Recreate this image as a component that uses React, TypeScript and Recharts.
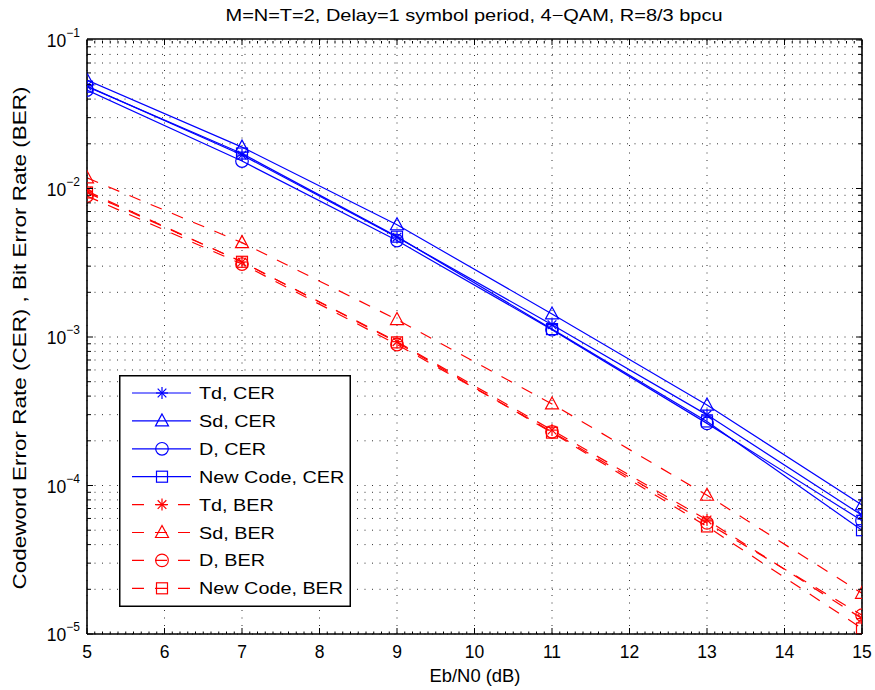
import React from 'react';
import { LineChart, Line, XAxis, YAxis, CartesianGrid, Legend } from 'recharts';

// ---------- data ----------
const snr = [5, 7, 9, 11, 13, 15];
const tdCER = [0.049, 0.0168, 0.0047, 0.00121, 0.000299, 0.000063];
const sdCER = [0.0538, 0.019, 0.0057, 0.00143, 0.000348, 0.000074];
const dCER = [0.046, 0.0153, 0.00446, 0.00112, 0.000262, 0.000058];
const ncCER = [0.0485, 0.0172, 0.00474, 0.00113, 0.00027, 0.00005];
const tdBER = [0.0096, 0.0032, 0.00093, 0.000236, 0.0000586, 0.0000127];
const sdBER = [0.0118, 0.00432, 0.00131, 0.000354, 0.000086, 0.0000188];
const dBER = [0.0089, 0.0031, 0.00089, 0.00023, 0.000056, 0.0000134];
const ncBER = [0.0094, 0.00321, 0.00092, 0.000227, 0.000053, 0.0000109];

const xTicks = [5, 6, 7, 8, 9, 10, 11, 12, 13, 14, 15];
const xMinorTicks: number[] = [];
for (let i = 0; i < xTicks.length - 1; i++) {
  for (let k = 1; k <= 9; k++) xMinorTicks.push(Number((xTicks[i] + k / 10).toFixed(1)));
}
const decades = [-5, -4, -3, -2, -1];
const yTicks: number[] = [];
decades.forEach((e, i) => {
  yTicks.push(Number(Math.pow(10, e).toPrecision(3)));
  if (i < decades.length - 1) {
    for (let k = 2; k <= 9; k++) yTicks.push(Number((k * Math.pow(10, e)).toPrecision(3)));
  }
});

const titleText = 'M=N=T=2, Delay=1 symbol period, 4\u2212QAM, R=8/3 bpcu';
const xLabelText = 'Eb/N0 (dB)';
const yLabelText = 'Codeword Error Rate (CER) , Bit Error Rate (BER)';

const BLUE = '#0000ff';
const RED = '#ff0000';
const FONT = '"Liberation Sans", Arial, Helvetica, sans-serif';
const DASH = '12 11';

type SeriesDef = { key: string; name: string; values: number[]; color: string; marker: string; dashed: boolean };
const series: SeriesDef[] = [
  { key: 'tdCER', name: 'Td, CER', values: tdCER, color: BLUE, marker: 'star', dashed: false },
  { key: 'sdCER', name: 'Sd, CER', values: sdCER, color: BLUE, marker: 'triangle', dashed: false },
  { key: 'dCER', name: 'D, CER', values: dCER, color: BLUE, marker: 'circle', dashed: false },
  { key: 'ncCER', name: 'New Code, CER', values: ncCER, color: BLUE, marker: 'square', dashed: false },
  { key: 'tdBER', name: 'Td, BER', values: tdBER, color: RED, marker: 'star', dashed: true },
  { key: 'sdBER', name: 'Sd, BER', values: sdBER, color: RED, marker: 'triangle', dashed: true },
  { key: 'dBER', name: 'D, BER', values: dBER, color: RED, marker: 'circle', dashed: true },
  { key: 'ncBER', name: 'New Code, BER', values: ncBER, color: RED, marker: 'square', dashed: true },
];

const data = snr.map((x, i) => {
  const row: Record<string, number> = { x };
  series.forEach((s) => {
    row[s.key] = s.values[i];
  });
  return row;
});

// ---------- markers ----------
function Marker({ shape, cx, cy, color }: { shape: string; cx: number; cy: number; color: string }) {
  const common = { fill: 'none', stroke: color, strokeWidth: 1.2 };
  if (shape === 'star') {
    const r = 6;
    const d = r * 0.72;
    return (
      <g {...common}>
        <line x1={cx} y1={cy - r} x2={cx} y2={cy + r} />
        <line x1={cx - r} y1={cy} x2={cx + r} y2={cy} />
        <line x1={cx - d} y1={cy - d} x2={cx + d} y2={cy + d} />
        <line x1={cx - d} y1={cy + d} x2={cx + d} y2={cy - d} />
      </g>
    );
  }
  if (shape === 'triangle') {
    return <polygon points={`${cx},${cy - 7} ${cx - 6.5},${cy + 5} ${cx + 6.5},${cy + 5}`} {...common} />;
  }
  if (shape === 'circle') {
    return <circle cx={cx} cy={cy} r={6.3} {...common} />;
  }
  return <rect x={cx - 5.5} y={cy - 5.5} width={11} height={11} {...common} />;
}

const makeDot = (shape: string, color: string) => (p: any) => {
  if (p.cx == null || p.cy == null) return <g key={`e-${p.index}`} />;
  return <Marker key={`m-${shape}-${color}-${p.index}`} shape={shape} cx={p.cx} cy={p.cy} color={color} />;
};

// ---------- ticks ----------
const isMajor = (v: number) => Math.abs(Math.log10(v) - Math.round(Math.log10(v))) < 1e-6;

const BottomTick = (props: any) => {
  const { x, y, payload } = props;
  return (
    <g>
      <line x1={x} y1={y} x2={x} y2={y - 6} stroke="#000" strokeWidth={1} />
      <text x={x} y={y + 24} textAnchor="middle" fontSize={17.5} fontFamily={FONT} fill="#000">
        {payload.value}
      </text>
    </g>
  );
};
const TopTick = (props: any) => {
  const { x, y } = props;
  return <line x1={x} y1={y} x2={x} y2={y + 6} stroke="#000" strokeWidth={1} />;
};
const BottomMinorTick = (props: any) => {
  const { x, y } = props;
  return <line x1={x} y1={y - 1} x2={x} y2={y - 3.5} stroke="#000" strokeWidth={1} />;
};
const TopMinorTick = (props: any) => {
  const { x, y } = props;
  return <line x1={x} y1={y + 1} x2={x} y2={y + 3.5} stroke="#000" strokeWidth={1} />;
};
const LeftTick = (props: any) => {
  const { x, y, payload } = props;
  const v = payload.value as number;
  if (!isMajor(v)) return <line x1={x} y1={y} x2={x + 4} y2={y} stroke="#000" strokeWidth={1} />;
  const e = Math.round(Math.log10(v));
  return (
    <g>
      <line x1={x} y1={y} x2={x + 6} y2={y} stroke="#000" strokeWidth={1} />
      <text x={x - 7} y={y + 7} textAnchor="end" fontSize={17.5} fontFamily={FONT} fill="#000">
        <tspan>10</tspan>
        <tspan dy={-10} fontSize={12}>{'\u2212' + Math.abs(e)}</tspan>
      </text>
    </g>
  );
};
const RightTick = (props: any) => {
  const { x, y, payload } = props;
  const len = isMajor(payload.value) ? 6 : 4;
  return <line x1={x} y1={y} x2={x - len} y2={y} stroke="#000" strokeWidth={1} />;
};

// ---------- legend ----------
const renderLegend = () => (
  <svg width={233} height={233} style={{ display: 'block' }}>
    <rect x={0.75} y={0.75} width={230.5} height={230.5} fill="#fff" stroke="#000" strokeWidth={1.5} />
    {series.map((s, i) => {
      const cy = 18 + i * 27.9;
      return (
        <g key={s.key}>
          <line x1={13} y1={cy} x2={72} y2={cy} stroke={s.color} strokeWidth={1.2} strokeDasharray={s.dashed ? DASH : undefined} />
          <Marker shape={s.marker} cx={43} cy={cy} color={s.color} />
          <text transform={`translate(80, ${cy + 6}) scale(1.2, 1)`} fontSize={16.5} fontFamily={FONT} fill="#000">
            {s.name}
          </text>
        </g>
      );
    })}
  </svg>
);

const axisCommon = {
  type: 'number' as const,
  allowDataOverflow: true,
  interval: 0 as const,
  tickSize: 0,
  tickMargin: 0,
  tickLine: false,
};

export default function App() {
  return (
    <div style={{ position: 'absolute', left: 0, top: 0, width: 875, height: 690, background: '#fff' }}>
      <LineChart width={875} height={690} data={data} margin={{ top: 38, right: 12, bottom: 54, left: 86 }}>
        <CartesianGrid stroke="#333" strokeDasharray="1 6.5" strokeWidth={1} />
        <XAxis
          {...axisCommon}
          dataKey="x"
          domain={[5, 15]}
          ticks={xTicks}
          height={1}
          axisLine={{ stroke: '#000', strokeWidth: 1.6 }}
          tick={BottomTick}
        />
        <XAxis
          {...axisCommon}
          xAxisId="bminor"
          dataKey="x"
          domain={[5, 15]}
          ticks={xMinorTicks}
          height={1}
          axisLine={false}
          tick={BottomMinorTick}
        />
        <XAxis
          {...axisCommon}
          xAxisId="top"
          orientation="top"
          dataKey="x"
          domain={[5, 15]}
          ticks={xTicks}
          height={1}
          axisLine={{ stroke: '#000', strokeWidth: 1.6 }}
          tick={TopTick}
        />
        <XAxis
          {...axisCommon}
          xAxisId="tminor"
          orientation="top"
          dataKey="x"
          domain={[5, 15]}
          ticks={xMinorTicks}
          height={1}
          axisLine={false}
          tick={TopMinorTick}
        />
        <YAxis
          {...axisCommon}
          scale="log"
          domain={[1e-5, 1e-1]}
          ticks={yTicks}
          width={1}
          axisLine={{ stroke: '#000', strokeWidth: 1.6 }}
          tick={LeftTick}
        />
        <YAxis
          {...axisCommon}
          yAxisId="right"
          orientation="right"
          scale="log"
          domain={[1e-5, 1e-1]}
          ticks={yTicks}
          width={1}
          axisLine={{ stroke: '#000', strokeWidth: 1.6 }}
          tick={RightTick}
        />
        {series.map((s) => (
          <Line
            key={s.key}
            dataKey={s.key}
            name={s.name}
            type="linear"
            stroke={s.color}
            strokeWidth={1.2}
            strokeDasharray={s.dashed ? DASH : undefined}
            dot={makeDot(s.marker, s.color)}
            activeDot={false}
            isAnimationActive={false}
          />
        ))}
        <Legend
          layout="vertical"
          align="center"
          verticalAlign="middle"
          content={renderLegend}
          wrapperStyle={{ left: 119, top: 375, width: 233, height: 233 }}
        />
      </LineChart>
      <svg width={875} height={690} style={{ position: 'absolute', left: 0, top: 0, pointerEvents: 'none' }}>
        <text x={474} y={21} textAnchor="middle" fontSize={16.5} fontFamily={FONT} fill="#000" textLength={497} lengthAdjust="spacingAndGlyphs">
          {titleText}
        </text>
        <text x={475} y={682} textAnchor="middle" fontSize={17.5} fontFamily={FONT} fill="#000" textLength={91} lengthAdjust="spacingAndGlyphs">
          {xLabelText}
        </text>
        <text
          transform="translate(26, 338) rotate(-90)"
          x={0}
          y={0}
          textAnchor="middle"
          fontSize={17.5}
          fontFamily={FONT}
          fill="#000"
          textLength={503}
          lengthAdjust="spacingAndGlyphs"
        >
          {yLabelText}
        </text>
      </svg>
    </div>
  );
}
